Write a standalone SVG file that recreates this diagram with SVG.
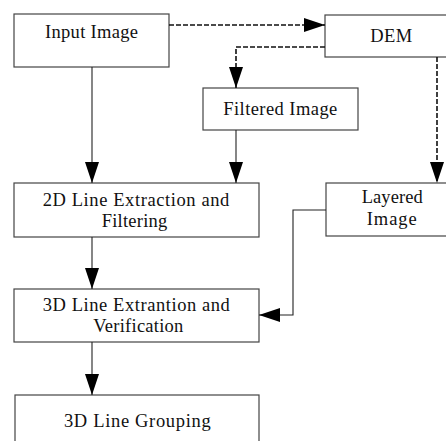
<svg xmlns="http://www.w3.org/2000/svg" width="446" height="441" viewBox="0 0 446 441">
<style>
.box{fill:#fff;stroke:#444;stroke-width:1.2}
.t{font-family:"Liberation Serif","Times New Roman",serif;font-size:18.5px;fill:#111;text-anchor:middle}
.c{fill:none;stroke:#222;stroke-width:1.1}
.d{fill:none;stroke:#111;stroke-width:1.6;stroke-dasharray:5 2}
</style>
<defs>
<marker id="ah" markerUnits="userSpaceOnUse" markerWidth="23" markerHeight="16" refX="21" refY="7" orient="auto">
<path d="M0,0 L21,7 L0,14 z" fill="#000"/>
</marker>
</defs>
<rect width="446" height="441" fill="#fff"/>
<g id="input"><rect class="box" x="14" y="14" width="155" height="53"/><text class="t" x="91.5" y="38" textLength="93" lengthAdjust="spacing">Input Image</text></g>
<g id="dem"><rect class="box" x="325" y="15" width="130" height="42"/><text class="t" x="391.3" y="41.5" textLength="42" lengthAdjust="spacing">DEM</text></g>
<g id="filtered"><rect class="box" x="203" y="88" width="155" height="42"/><text class="t" x="280.3" y="115" textLength="114" lengthAdjust="spacing">Filtered Image</text></g>
<g id="extract2d"><rect class="box" x="14" y="183" width="245" height="54"/><text class="t" x="136" y="205.7" textLength="186.6" lengthAdjust="spacing">2D Line Extraction and</text><text class="t" x="134.5" y="226.7" textLength="65.6" lengthAdjust="spacing">Filtering</text></g>
<g id="layered"><rect class="box" x="326" y="183" width="130" height="53"/><text class="t" x="392.2" y="203.3" textLength="61" lengthAdjust="spacing">Layered</text><text class="t" x="391.7" y="225" textLength="50" lengthAdjust="spacing">Image</text></g>
<g id="extract3d"><rect class="box" x="14" y="289" width="245" height="53"/><text class="t" x="136.3" y="310.7" textLength="187" lengthAdjust="spacing">3D Line Extrantion and</text><text class="t" x="138.3" y="331.7" textLength="90" lengthAdjust="spacing">Verification</text></g>
<g id="grouping"><rect class="box" x="15" y="395" width="244" height="60"/><text class="t" x="137.3" y="426.7" textLength="146.7" lengthAdjust="spacing">3D Line Grouping</text></g>
<g id="connectors">
<path class="d" d="M169,25 H325" marker-end="url(#ah)"/>
<path class="d" d="M325,47 H236 V88" marker-end="url(#ah)"/>
<path class="d" d="M437,57 V183" marker-end="url(#ah)"/>
<path class="c" d="M92,67 V183" marker-end="url(#ah)"/>
<path class="c" d="M236,130 V183" marker-end="url(#ah)"/>
<path class="c" d="M92,237 V289" marker-end="url(#ah)"/>
<path class="c" d="M326,210 H293 V315 H259" marker-end="url(#ah)"/>
<path class="c" d="M92,342 V395" marker-end="url(#ah)"/>
</g>
</svg>
